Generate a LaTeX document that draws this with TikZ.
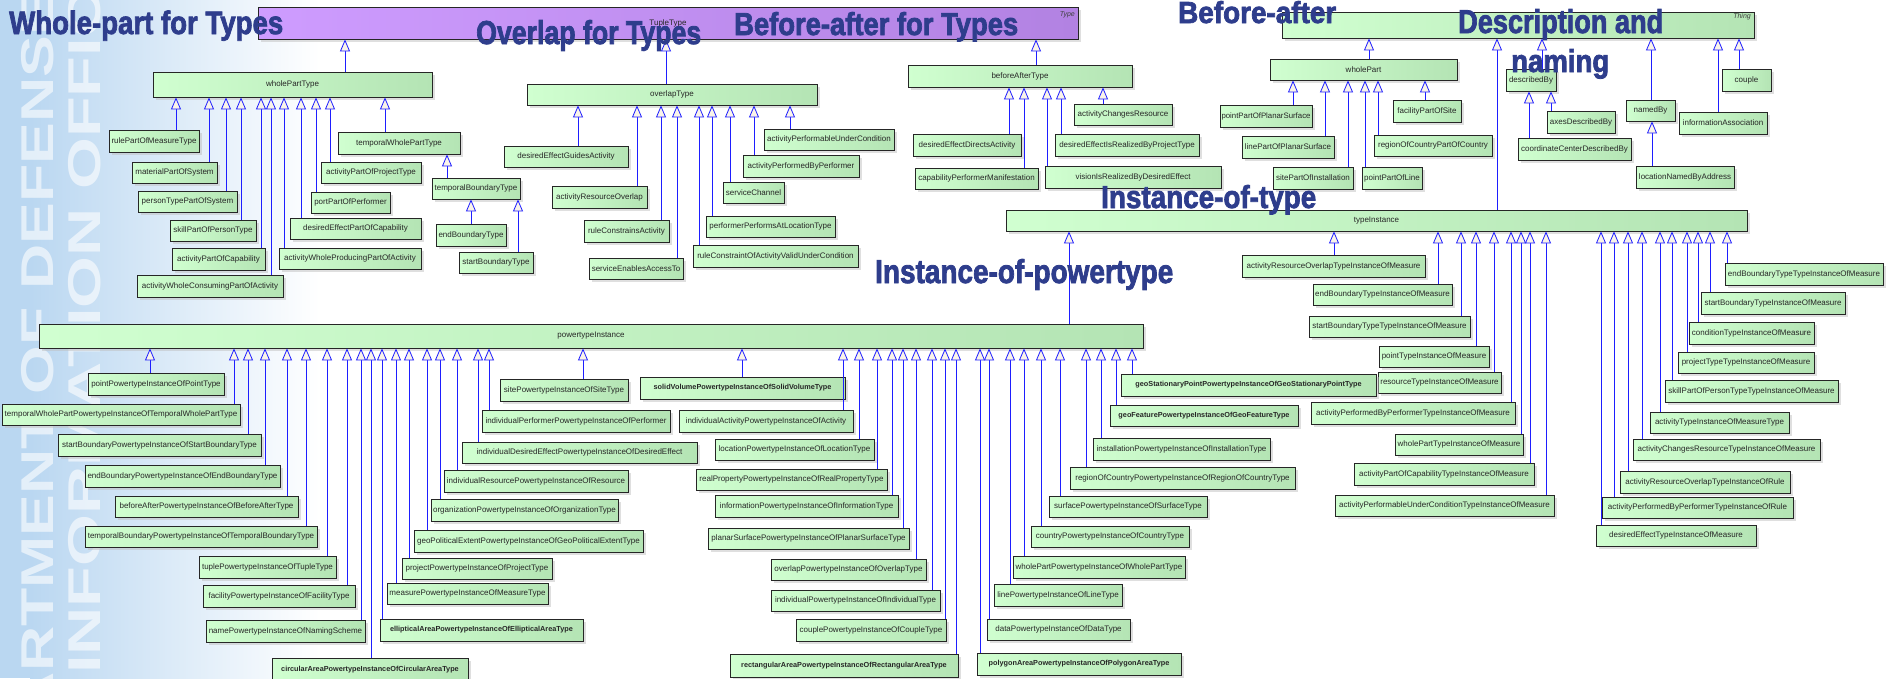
\documentclass[tikz,border=0pt]{standalone}
\usepackage{fontspec}
\setmainfont{Liberation Sans}
\newfontfamily\headfont{Liberation Sans}[BoldFeatures={FakeBold=2.5}]
\usetikzlibrary{arrows.meta,shadows}

\definecolor{boxL}{RGB}{208,255,208}
\definecolor{boxR}{RGB}{180,228,180}
\definecolor{typL}{RGB}{206,156,255}
\definecolor{typR}{RGB}{178,130,226}
\definecolor{genblue}{RGB}{30,30,255}
\definecolor{ttlblue}{RGB}{46,61,140}
\definecolor{wmblue}{RGB}{186,215,241}
\definecolor{tricream}{RGB}{250,244,232}

\newlength\lblw
\newsavebox\lblbox
% shrink a label only when it is wider than its box
\newcommand\fitlabel[1]{\sbox\lblbox{#1}\ifdim\wd\lblbox>\lblw\resizebox{\lblw}{!}{\usebox\lblbox}\else\usebox\lblbox\fi}
% class box from its corners: [style]{name}{x1}{y1}{x2}{y2}{label}
\newcommand\umlbox[7][]{\setlength\lblw{\dimexpr #5pt-#3pt-3pt\relax}%
  \node[cbox,#1,minimum width={#5pt-#3pt},minimum height={#6pt-#4pt}] (#2) at ({(#3+#5)/2},{(#4+#6)/2}) {\fitlabel{#7}};}
% generalisation: child, parent, x of the vertical connector
\newcommand\isa[3]{\coordinate (gx) at (#3,0);\draw[genl] (#1.north -| gx) -- (#2.south -| gx);}
% heading: name, left x, baseline y, width, height, text
\newcommand\bigtitle[6]{\node[headline,anchor=base west] (#1) at (#2,#3) {\resizebox{#4pt}{#5pt}{#6}};}

\tikzset{
  cbox/.style={draw=black!85, line width=0.8pt, left color=boxL, right color=boxR,
    inner sep=0pt, font=\fontsize{8}{9}\selectfont, text=black!85,
    drop shadow={shadow xshift=3pt, shadow yshift=-3pt, fill=black!25}},
  boldtxt/.style={font=\fontsize{7.3}{8}\selectfont\bfseries},
  typebox/.style={left color=typL, right color=typR},
  genl/.style={draw=genblue, line width=0.8pt, -{Triangle[length=12pt,width=10pt,fill=tricream]}},
  headline/.style={inner sep=0pt, text=ttlblue, font=\headfont\bfseries},
  tag/.style={inner sep=0pt, font=\fontsize{7}{8}\selectfont\itshape, text=black!75},
  wmark/.style={rotate=90, inner sep=0pt, text=white, opacity=0.6,
    font=\fontsize{46}{46}\selectfont\bfseries}
}

\begin{document}
\begin{tikzpicture}[x=1pt,y=-1pt]
\useasboundingbox (0,0) rectangle (1895,678);
\begin{scope}
\clip (0,0) rectangle (1895,678);

% background band with the faded lettering
\fill[wmblue] (0,0) rectangle (30,678);
\shade[left color=wmblue, right color=white] (30,0) rectangle (320,678);
\node[wmark, anchor=base east] (wmdod) at (53,-6) {\scalebox{1.36}[1]{DEPARTMENT OF DEFENSE}};
\node[wmark, anchor=base east] (wmcio) at (100,-55) {\scalebox{1.45}[1]{INFORMATION OFFICE}};

% root classes
\umlbox[typebox]{type}{258}{7}{1078}{39}{TupleType}
\node[tag, anchor=north east] (typetag) at (1075,11) {Type};
\umlbox{thing}{1282}{12}{1754}{38}{}
\node[tag, anchor=north east] (thingtag) at (1751,13) {Thing};

% whole-part for types
\umlbox{wholePartType}{153}{72}{432}{97}{wholePartType}
\umlbox{rulePartOfMeasureType}{109}{130}{199}{152}{rulePartOfMeasureType}
\umlbox{materialPartOfSystem}{132}{162}{217}{183}{materialPartOfSystem}
\umlbox{personTypePartOfSystem}{138}{191}{237}{212}{personTypePartOfSystem}
\umlbox{skillPartOfPersonType}{170}{220}{256}{241}{skillPartOfPersonType}
\umlbox{activityPartOfCapability}{172}{248}{265}{270}{activityPartOfCapability}
\umlbox{activityWholeConsumingPartOfActivity}{137}{275}{283}{297}{activityWholeConsumingPartOfActivity}
\umlbox{activityWholeProducingPartOfActivity}{279}{248}{421}{269}{activityWholeProducingPartOfActivity}
\umlbox{desiredEffectPartOfCapability}{290}{218}{421}{239}{desiredEffectPartOfCapability}
\umlbox{portPartOfPerformer}{311}{192}{390}{213}{portPartOfPerformer}
\umlbox{activityPartOfProjectType}{321}{162}{421}{183}{activityPartOfProjectType}
\umlbox{temporalWholePartType}{338}{132}{460}{154}{temporalWholePartType}
\umlbox{temporalBoundaryType}{432}{178}{520}{199}{temporalBoundaryType}
\umlbox{endBoundaryType}{436}{224}{506}{246}{endBoundaryType}
\umlbox{startBoundaryType}{459}{252}{533}{273}{startBoundaryType}

% overlap for types
\umlbox{overlapType}{527}{84}{817}{105}{overlapType}
\umlbox{desiredEffectGuidesActivity}{504}{146}{628}{167}{desiredEffectGuidesActivity}
\umlbox{activityResourceOverlap}{552}{186}{647}{208}{activityResourceOverlap}
\umlbox{ruleConstrainsActivity}{584}{220}{669}{242}{ruleConstrainsActivity}
\umlbox{serviceEnablesAccessTo}{589}{258}{683}{279}{serviceEnablesAccessTo}
\umlbox{ruleConstraintOfActivityValidUnderCondition}{693}{245}{858}{267}{ruleConstraintOfActivityValidUnderCondition}
\umlbox{performerPerformsAtLocationType}{706}{216}{835}{237}{performerPerformsAtLocationType}
\umlbox{serviceChannel}{723}{182}{784}{203}{serviceChannel}
\umlbox{activityPerformedByPerformer}{743}{155}{859}{177}{activityPerformedByPerformer}
\umlbox{activityPerformableUnderCondition}{764}{129}{894}{150}{activityPerformableUnderCondition}

% before-after for types
\umlbox{beforeAfterType}{908}{65}{1132}{87}{beforeAfterType}
\umlbox{desiredEffectDirectsActivity}{913}{134}{1021}{156}{desiredEffectDirectsActivity}
\umlbox{capabilityPerformerManifestation}{915}{168}{1038}{189}{capabilityPerformerManifestation}
\umlbox{visionIsRealizedByDesiredEffect}{1045}{166}{1221}{188}{visionIsRealizedByDesiredEffect}
\umlbox{desiredEffectIsRealizedByProjectType}{1055}{134}{1199}{156}{desiredEffectIsRealizedByProjectType}
\umlbox{activityChangesResource}{1074}{104}{1172}{125}{activityChangesResource}

% before-after
\umlbox{wholePart}{1270}{59}{1457}{80}{wholePart}
\umlbox{pointPartOfPlanarSurface}{1220}{105}{1312}{127}{pointPartOfPlanarSurface}
\umlbox{linePartOfPlanarSurface}{1242}{136}{1334}{158}{linePartOfPlanarSurface}
\umlbox{sitePartOfInstallation}{1273}{167}{1353}{189}{sitePartOfInstallation}
\umlbox{pointPartOfLine}{1362}{167}{1422}{189}{pointPartOfLine}
\umlbox{regionOfCountryPartOfCountry}{1374}{135}{1492}{156}{regionOfCountryPartOfCountry}
\umlbox{facilityPartOfSite}{1393}{100}{1461}{122}{facilityPartOfSite}

% description and naming
\umlbox{describedBy}{1506}{69}{1556}{91}{describedBy}
\umlbox{coordinateCenterDescribedBy}{1518}{138}{1631}{160}{coordinateCenterDescribedBy}
\umlbox{axesDescribedBy}{1547}{111}{1615}{133}{axesDescribedBy}
\umlbox{namedBy}{1626}{100}{1675}{121}{namedBy}
\umlbox{locationNamedByAddress}{1636}{166}{1734}{188}{locationNamedByAddress}
\umlbox{informationAssociation}{1679}{112}{1767}{134}{informationAssociation}
\umlbox{couple}{1722}{69}{1771}{91}{couple}

% instance-of-type
\umlbox{typeInstance}{1006}{210}{1747}{231}{typeInstance}
\umlbox{tiA}{1242}{255}{1425}{277}{activityResourceOverlapTypeInstanceOfMeasure}
\umlbox{tiB}{1313}{284}{1452}{305}{endBoundaryTypeInstanceOfMeasure}
\umlbox{tiC}{1309}{316}{1470}{337}{startBoundaryTypeTypeInstanceOfMeasure}
\umlbox{tiD}{1379}{346}{1489}{367}{pointTypeInstanceOfMeasure}
\umlbox{tiE}{1378}{372}{1501}{393}{resourceTypeInstanceOfMeasure}
\umlbox{tiF}{1311}{402}{1515}{424}{activityPerformedByPerformerTypeInstanceOfMeasure}
\umlbox{tiG}{1395}{434}{1523}{455}{wholePartTypeInstanceOfMeasure}
\umlbox{tiH}{1354}{463}{1534}{485}{activityPartOfCapabilityTypeInstanceOfMeasure}
\umlbox{tiI}{1335}{495}{1554}{516}{activityPerformableUnderConditionTypeInstanceOfMeasure}
\umlbox{tiJ}{1596}{525}{1756}{546}{desiredEffectTypeInstanceOfMeasure}
\umlbox{tiK}{1602}{497}{1793}{518}{activityPerformedByPerformerTypeInstanceOfRule}
\umlbox{tiL}{1620}{471}{1790}{493}{activityResourceOverlapTypeInstanceOfRule}
\umlbox{tiM}{1633}{439}{1820}{460}{activityChangesResourceTypeInstanceOfMeasure}
\umlbox{tiN}{1650}{412}{1789}{433}{activityTypeInstanceOfMeasureType}
\umlbox{tiO}{1665}{380}{1838}{402}{skillPartOfPersonTypeTypeInstanceOfMeasure}
\umlbox{tiP}{1678}{352}{1814}{373}{projectTypeTypeInstanceOfMeasure}
\umlbox{tiQ}{1689}{322}{1814}{344}{conditionTypeInstanceOfMeasure}
\umlbox{tiR}{1701}{292}{1845}{314}{startBoundaryTypeInstanceOfMeasure}
\umlbox{tiS}{1725}{263}{1883}{285}{endBoundaryTypeTypeInstanceOfMeasure}

% instance-of-powertype
\umlbox{powertypeInstance}{39}{324}{1143}{348}{powertypeInstance}
\umlbox{pA}{88}{373}{224}{395}{pointPowertypeInstanceOfPointType}
\umlbox{pB}{2}{404}{240}{425}{temporalWholePartPowertypeInstanceOfTemporalWholePartType}
\umlbox{pC}{58}{434}{261}{456}{startBoundaryPowertypeInstanceOfStartBoundaryType}
\umlbox{pD}{85}{465}{280}{487}{endBoundaryPowertypeInstanceOfEndBoundaryType}
\umlbox{pE}{115}{496}{298}{517}{beforeAfterPowertypeInstanceOfBeforeAfterType}
\umlbox{pF}{85}{526}{317}{547}{temporalBoundaryPowertypeInstanceOfTemporalBoundaryType}
\umlbox{pG}{199}{556}{336}{578}{tuplePowertypeInstanceOfTupleType}
\umlbox{pH}{203}{585}{355}{607}{facilityPowertypeInstanceOfFacilityType}
\umlbox{pI}{206}{620}{365}{642}{namePowertypeInstanceOfNamingScheme}
\umlbox[boldtxt]{pJ}{272}{658}{468}{681}{circularAreaPowertypeInstanceOfCircularAreaType}
\umlbox[boldtxt]{pK}{380}{619}{583}{641}{ellipticalAreaPowertypeInstanceOfEllipticalAreaType}
\umlbox{pL}{387}{583}{548}{604}{measurePowertypeInstanceOfMeasureType}
\umlbox{pM}{402}{558}{552}{579}{projectPowertypeInstanceOfProjectType}
\umlbox{pN}{414}{530}{643}{552}{geoPoliticalExtentPowertypeInstanceOfGeoPoliticalExtentType}
\umlbox{pO}{431}{499}{618}{521}{organizationPowertypeInstanceOfOrganizationType}
\umlbox{pP}{444}{470}{628}{492}{individualResourcePowertypeInstanceOfResource}
\umlbox{pQ}{462}{442}{697}{463}{individualDesiredEffectPowertypeInstanceOfDesiredEffect}
\umlbox{pR}{482}{410}{670}{432}{individualPerformerPowertypeInstanceOfPerformer}
\umlbox{pS}{500}{379}{628}{401}{sitePowertypeInstanceOfSiteType}
\umlbox[boldtxt]{pT}{640}{377}{845}{399}{solidVolumePowertypeInstanceOfSolidVolumeType}
\umlbox{pU}{679}{410}{853}{432}{individualActivityPowertypeInstanceOfActivity}
\umlbox{pV}{715}{439}{874}{460}{locationPowertypeInstanceOfLocationType}
\umlbox{pW}{696}{469}{887}{490}{realPropertyPowertypeInstanceOfRealPropertyType}
\umlbox{pX}{715}{495}{898}{517}{informationPowertypeInstanceOfInformationType}
\umlbox{pY}{708}{528}{909}{549}{planarSurfacePowertypeInstanceOfPlanarSurfaceType}
\umlbox{pZ}{771}{559}{926}{580}{overlapPowertypeInstanceOfOverlapType}
\umlbox{qA}{771}{590}{940}{611}{individualPowertypeInstanceOfIndividualType}
\umlbox{qB}{796}{619}{946}{641}{couplePowertypeInstanceOfCoupleType}
\umlbox[boldtxt]{qC}{730}{654}{958}{677}{rectangularAreaPowertypeInstanceOfRectangularAreaType}
\umlbox[boldtxt]{qD}{977}{653}{1181}{675}{polygonAreaPowertypeInstanceOfPolygonAreaType}
\umlbox{qE}{987}{619}{1130}{640}{dataPowertypeInstanceOfDataType}
\umlbox{qF}{994}{584}{1122}{606}{linePowertypeInstanceOfLineType}
\umlbox{qG}{1013}{556}{1185}{578}{wholePartPowertypeInstanceOfWholePartType}
\umlbox{qH}{1031}{526}{1189}{547}{countryPowertypeInstanceOfCountryType}
\umlbox{qI}{1049}{496}{1207}{517}{surfacePowertypeInstanceOfSurfaceType}
\umlbox{qJ}{1070}{467}{1295}{489}{regionOfCountryPowertypeInstanceOfRegionOfCountryType}
\umlbox{qK}{1093}{438}{1270}{460}{installationPowertypeInstanceOfInstallationType}
\umlbox[boldtxt]{qL}{1110}{405}{1298}{426}{geoFeaturePowertypeInstanceOfGeoFeatureType}
\umlbox[boldtxt]{qM}{1121}{374}{1376}{396}{geoStationaryPointPowertypeInstanceOfGeoStationaryPointType}

% generalisations
\isa{wholePartType}{type}{345}
\isa{overlapType}{type}{666}
\isa{beforeAfterType}{type}{1036}
\isa{wholePart}{thing}{1369}
\isa{typeInstance}{thing}{1497}
\isa{describedBy}{thing}{1542}
\isa{namedBy}{thing}{1651}
\isa{informationAssociation}{thing}{1718}
\isa{couple}{thing}{1739}

\isa{rulePartOfMeasureType}{wholePartType}{176}
\isa{materialPartOfSystem}{wholePartType}{209}
\isa{personTypePartOfSystem}{wholePartType}{226}
\isa{skillPartOfPersonType}{wholePartType}{241}
\isa{activityPartOfCapability}{wholePartType}{261}
\isa{activityWholeConsumingPartOfActivity}{wholePartType}{271}
\isa{activityWholeProducingPartOfActivity}{wholePartType}{284}
\isa{desiredEffectPartOfCapability}{wholePartType}{301}
\isa{portPartOfPerformer}{wholePartType}{316}
\isa{activityPartOfProjectType}{wholePartType}{330}
\isa{temporalWholePartType}{wholePartType}{385}
\isa{temporalBoundaryType}{temporalWholePartType}{447}
\isa{endBoundaryType}{temporalBoundaryType}{471}
\isa{startBoundaryType}{temporalBoundaryType}{518}

\isa{desiredEffectGuidesActivity}{overlapType}{578}
\isa{activityResourceOverlap}{overlapType}{637}
\isa{ruleConstrainsActivity}{overlapType}{661}
\isa{serviceEnablesAccessTo}{overlapType}{677}
\isa{ruleConstraintOfActivityValidUnderCondition}{overlapType}{699}
\isa{performerPerformsAtLocationType}{overlapType}{712}
\isa{serviceChannel}{overlapType}{730}
\isa{activityPerformedByPerformer}{overlapType}{754}
\isa{activityPerformableUnderCondition}{overlapType}{790}

\isa{desiredEffectDirectsActivity}{beforeAfterType}{1009}
\isa{capabilityPerformerManifestation}{beforeAfterType}{1024}
\isa{visionIsRealizedByDesiredEffect}{beforeAfterType}{1047}
\isa{desiredEffectIsRealizedByProjectType}{beforeAfterType}{1061}
\isa{activityChangesResource}{beforeAfterType}{1103}

\isa{pointPartOfPlanarSurface}{wholePart}{1293}
\isa{linePartOfPlanarSurface}{wholePart}{1325}
\isa{sitePartOfInstallation}{wholePart}{1348}
\isa{pointPartOfLine}{wholePart}{1365}
\isa{regionOfCountryPartOfCountry}{wholePart}{1378}
\isa{facilityPartOfSite}{wholePart}{1425}

\isa{coordinateCenterDescribedBy}{describedBy}{1529}
\isa{axesDescribedBy}{describedBy}{1551}
\isa{locationNamedByAddress}{namedBy}{1652}

\isa{powertypeInstance}{typeInstance}{1069}
\isa{tiA}{typeInstance}{1334}
\isa{tiB}{typeInstance}{1438}
\isa{tiC}{typeInstance}{1461}
\isa{tiD}{typeInstance}{1476}
\isa{tiE}{typeInstance}{1494}
\isa{tiF}{typeInstance}{1511}
\isa{tiG}{typeInstance}{1521}
\isa{tiH}{typeInstance}{1530}
\isa{tiI}{typeInstance}{1546}
\isa{tiJ}{typeInstance}{1601}
\isa{tiK}{typeInstance}{1614}
\isa{tiL}{typeInstance}{1628}
\isa{tiM}{typeInstance}{1642}
\isa{tiN}{typeInstance}{1660}
\isa{tiO}{typeInstance}{1672}
\isa{tiP}{typeInstance}{1687}
\isa{tiQ}{typeInstance}{1698}
\isa{tiR}{typeInstance}{1710}
\isa{tiS}{typeInstance}{1727}

\isa{pA}{powertypeInstance}{150}
\isa{pB}{powertypeInstance}{234}
\isa{pC}{powertypeInstance}{248}
\isa{pD}{powertypeInstance}{265}
\isa{pE}{powertypeInstance}{287}
\isa{pF}{powertypeInstance}{306}
\isa{pG}{powertypeInstance}{327}
\isa{pH}{powertypeInstance}{347}
\isa{pI}{powertypeInstance}{361}
\isa{pJ}{powertypeInstance}{371}
\isa{pK}{powertypeInstance}{382}
\isa{pL}{powertypeInstance}{396}
\isa{pM}{powertypeInstance}{409}
\isa{pN}{powertypeInstance}{427}
\isa{pO}{powertypeInstance}{440}
\isa{pP}{powertypeInstance}{457}
\isa{pQ}{powertypeInstance}{478}
\isa{pR}{powertypeInstance}{489}
\isa{pS}{powertypeInstance}{583}
\isa{pT}{powertypeInstance}{742}
\isa{pU}{powertypeInstance}{843}
\isa{pV}{powertypeInstance}{859}
\isa{pW}{powertypeInstance}{877}
\isa{pX}{powertypeInstance}{892}
\isa{pY}{powertypeInstance}{903}
\isa{pZ}{powertypeInstance}{916}
\isa{qA}{powertypeInstance}{932}
\isa{qB}{powertypeInstance}{945}
\isa{qC}{powertypeInstance}{956}
\isa{qD}{powertypeInstance}{980}
\isa{qE}{powertypeInstance}{989}
\isa{qF}{powertypeInstance}{1010}
\isa{qG}{powertypeInstance}{1024}
\isa{qH}{powertypeInstance}{1041}
\isa{qI}{powertypeInstance}{1060}
\isa{qJ}{powertypeInstance}{1086}
\isa{qK}{powertypeInstance}{1101}
\isa{qL}{powertypeInstance}{1116}
\isa{qM}{powertypeInstance}{1132}

% section headings, drawn over everything
\bigtitle{hWholePart}{9}{34}{274}{23.5}{Whole-part for Types}
\bigtitle{hOverlap}{476}{44}{225}{24}{Overlap for Types}
\bigtitle{hBeforeAfterTypes}{734}{35}{284}{23}{Before-after for Types}
\bigtitle{hBeforeAfter}{1178}{23}{158}{22}{Before-after}
\bigtitle{hDescription}{1458}{33}{205}{24}{Description and}
\bigtitle{hNaming}{1511}{72}{98}{23}{naming}
\bigtitle{hInstType}{1101}{208}{215}{23}{Instance-of-type}
\bigtitle{hInstPower}{875}{283}{298}{24}{Instance-of-powertype}
\end{scope}
\end{tikzpicture}
\end{document}
